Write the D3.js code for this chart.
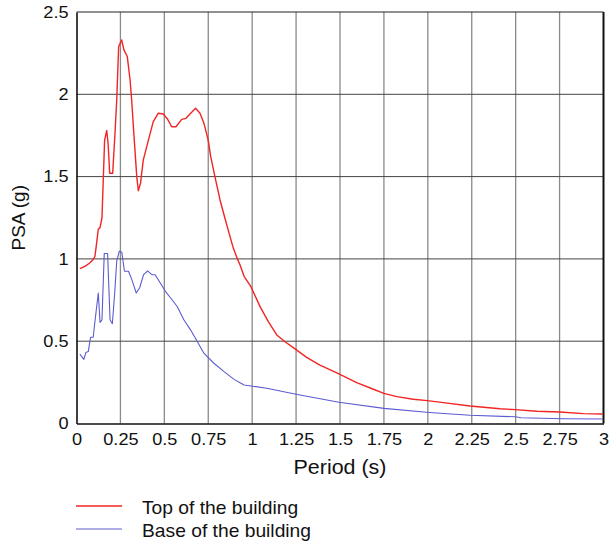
<!DOCTYPE html>
<html>
<head>
<meta charset="utf-8">
<script src="https://cdn.jsdelivr.net/npm/d3@7/dist/d3.min.js"></script>
<style>
  html, body { margin: 0; padding: 0; background: #fff; }
  svg { display: block; font-family: "Liberation Sans", Arial, sans-serif; }
</style>
</head>
<body>
<svg id="chart" width="611" height="545"></svg>
<script>
// ---- Data ----
const topPeriod = [0.019,0.048,0.075,0.095,0.105,0.115,0.124,0.134,0.145,0.153,0.160,0.172,0.180,0.189,0.206,0.219,0.229,0.240,0.257,0.270,0.289,0.305,0.314,0.329,0.343,0.352,0.365,0.380,0.409,0.437,0.466,0.494,0.519,0.542,0.566,0.599,0.623,0.650,0.678,0.703,0.726,0.750,0.764,0.788,0.817,0.845,0.874,0.893,0.916,0.931,0.954,0.993,1.045,1.092,1.140,1.187,1.244,1.310,1.386,1.494,1.595,1.690,1.750,1.823,1.917,1.997,2.088,2.240,2.411,2.498,2.620,2.752,2.885,2.995];
const topPSA = [0.941,0.955,0.975,0.996,1.016,1.10,1.18,1.19,1.25,1.50,1.72,1.78,1.70,1.52,1.52,1.76,1.965,2.29,2.33,2.27,2.23,2.087,1.965,1.72,1.50,1.414,1.463,1.60,1.72,1.834,1.885,1.88,1.848,1.803,1.803,1.848,1.854,1.885,1.915,1.885,1.822,1.72,1.621,1.50,1.358,1.247,1.135,1.064,1.0,0.963,0.894,0.831,0.710,0.619,0.538,0.497,0.453,0.402,0.355,0.301,0.248,0.208,0.183,0.163,0.147,0.139,0.127,0.106,0.090,0.084,0.074,0.070,0.060,0.058];

const basePeriod = [0.019,0.042,0.053,0.067,0.080,0.095,0.105,0.124,0.134,0.145,0.158,0.177,0.191,0.204,0.216,0.229,0.244,0.258,0.273,0.296,0.315,0.340,0.359,0.382,0.405,0.429,0.448,0.477,0.506,0.544,0.573,0.611,0.649,0.677,0.725,0.782,0.840,0.897,0.931,0.954,0.993,1.083,1.250,1.494,1.750,1.993,2.069,2.240,2.498,2.530,2.771,2.995];
const basePSA = [0.421,0.39,0.431,0.437,0.524,0.524,0.62,0.793,0.614,0.63,1.033,1.033,0.63,0.606,0.772,0.986,1.047,1.04,0.925,0.925,0.874,0.793,0.823,0.904,0.927,0.904,0.904,0.854,0.803,0.752,0.711,0.630,0.569,0.518,0.427,0.366,0.315,0.268,0.248,0.234,0.228,0.214,0.178,0.129,0.092,0.068,0.062,0.050,0.041,0.035,0.029,0.027];

const xTicks = [0,0.25,0.5,0.75,1,1.25,1.5,1.75,2,2.25,2.5,2.75,3];
const yTicks = [0,0.5,1,1.5,2,2.5];
const seriesNames = ["Top of the building", "Base of the building"];
const seriesColors = ["#f22424", "#5c5cd2"];
const xTitle = "Period (s)";
const yTitle = "PSA (g)";

// ---- Layout ----
const svg = d3.select("#chart");
const L = 76.5, R = 603.5, T = 12, B = 423.5;

const x = d3.scaleLinear().domain([0, 3]).range([L, R]);
const y = d3.scaleLinear().domain([0, 2.5]).range([B, T]);

// widen horizontal text slightly (reference glyphs are horizontally stretched)
function stretch(sel, k) {
  sel.each(function () {
    const w = this.getComputedTextLength();
    d3.select(this).attr("textLength", w * k).attr("lengthAdjust", "spacingAndGlyphs");
  });
}

// grid
const grid = svg.append("g");
grid.selectAll("line.v").data(xTicks.slice(1, -1)).join("line")
  .attr("x1", d => x(d)).attr("x2", d => x(d))
  .attr("y1", T).attr("y2", B)
  .attr("stroke", "#8a8a8a").attr("stroke-width", 1.3);
grid.selectAll("line.h").data(yTicks.slice(1, -1)).join("line")
  .attr("x1", L).attr("x2", R)
  .attr("y1", d => y(d)).attr("y2", d => y(d))
  .attr("stroke", "#444").attr("stroke-width", 1);

// frame
svg.append("line").attr("x1", L).attr("x2", R).attr("y1", T).attr("y2", T)
  .attr("stroke", "#222").attr("stroke-width", 1.2);
svg.append("line").attr("x1", R).attr("x2", R).attr("y1", T).attr("y2", B)
  .attr("stroke", "#111").attr("stroke-width", 2);

// curves
const line = d3.line().x(d => x(d[0])).y(d => y(d[1]));
const topData = d3.zip(topPeriod, topPSA);
const baseData = d3.zip(basePeriod, basePSA);
svg.append("path").datum(baseData).attr("d", line)
  .attr("fill", "none").attr("stroke", seriesColors[1]).attr("stroke-width", 1.1)
  .attr("stroke-linejoin", "round");
svg.append("path").datum(topData).attr("d", line)
  .attr("fill", "none").attr("stroke", seriesColors[0]).attr("stroke-width", 1.4)
  .attr("stroke-linejoin", "round");

// axes
const xAxis = svg.append("g").attr("transform", `translate(0,${B})`)
  .call(d3.axisBottom(x).tickValues(xTicks).tickSize(0).tickPadding(10).tickFormat(d => String(d)));
const yAxis = svg.append("g").attr("transform", `translate(${L},0)`)
  .call(d3.axisLeft(y).tickValues(yTicks).tickSize(0).tickPadding(8).tickFormat(d => String(d)));
[xAxis, yAxis].forEach(a => {
  a.select(".domain").attr("stroke", "#111").attr("stroke-width", 1.6);
  a.selectAll("text").attr("font-size", 16.5).attr("fill", "#111")
    .attr("font-family", "'Liberation Sans', Arial, sans-serif");
  stretch(a.selectAll("text"), 1.1);
});

// titles
const xt = svg.append("text").attr("x", (L + R) / 2).attr("y", 474).attr("text-anchor", "middle")
  .attr("font-size", 19.5).attr("fill", "#111").text(xTitle);
stretch(xt, 1.1);
svg.append("text").attr("transform", `translate(25,${(T + B) / 2}) rotate(-90)`)
  .attr("text-anchor", "middle").attr("font-size", 19).attr("fill", "#111").text(yTitle);

// legend
const leg = svg.append("g");
seriesNames.forEach((name, i) => {
  const yy = 506 + i * 23;
  leg.append("line").attr("x1", 76).attr("x2", 122).attr("y1", yy).attr("y2", yy)
    .attr("stroke", seriesColors[i]).attr("stroke-width", i === 0 ? 1.4 : 1.1);
  const t = leg.append("text").attr("x", 142).attr("y", yy + 8).attr("font-size", 18.5)
    .attr("fill", "#111").text(name);
  stretch(t, 1.04);
});
</script>
</body>
</html>
